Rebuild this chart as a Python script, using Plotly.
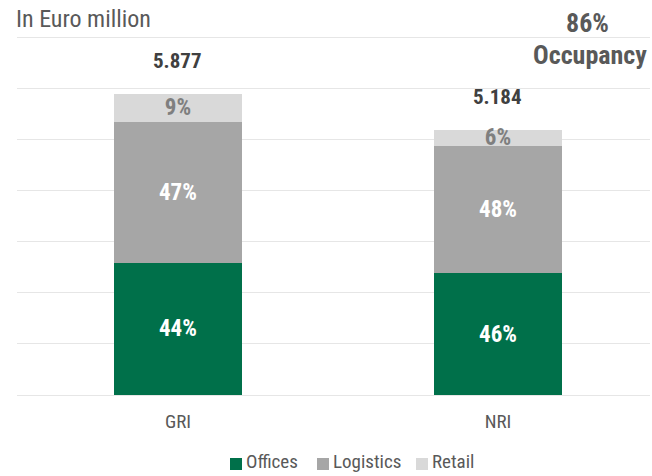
import plotly.graph_objects as go

categories = ["GRI", "NRI"]
totals = [5.877, 5.184]
segments = ["Offices", "Logistics", "Retail"]
shares = {
    "Offices": [0.44, 0.46],
    "Logistics": [0.47, 0.48],
    "Retail": [0.09, 0.06],
}
colors = {"Offices": "#00704A", "Logistics": "#A6A6A6", "Retail": "#D9D9D9"}
label_colors = {"Offices": "white", "Logistics": "white", "Retail": "#7F7F7F"}
occupancy = "86%"

FONT = "Liberation Sans Narrow, Roboto Condensed, Arial Narrow, Liberation Sans, sans-serif"
W, H = 652, 476
ML, MR, MT, MB = 17, 2, 36, 81


def px_x(px):
    return (px - ML) / (W - ML - MR)


def px_y(py):
    return (H - MB - py) / (H - MT - MB)


fig = go.Figure()
for seg in segments:
    vals = [t * s for t, s in zip(totals, shares[seg])]
    fig.add_trace(go.Bar(
        name=seg,
        x=categories,
        y=vals,
        width=0.4,
        marker_color=colors[seg],
        marker_line_width=0,
        text=[f"{round(s * 100)}%" for s in shares[seg]],
        textposition="inside",
        insidetextanchor="middle",
        textangle=0,
        constraintext="none",
        textfont=dict(family=FONT, size=23, color=label_colors[seg], weight="bold"),
        hoverinfo="skip",
    ))

for cat, tot in zip(categories, totals):
    fig.add_annotation(
        x=cat, y=tot, text=f"<b>{tot:.3f}</b>", showarrow=False,
        yanchor="bottom", yshift=19,
        font=dict(family=FONT, size=21, color="#404040"),
    )

fig.add_annotation(xref="paper", yref="paper", x=px_x(14), y=px_y(19), xanchor="left", yanchor="middle",
                   text="In Euro million", showarrow=False,
                   font=dict(family=FONT, size=24, color="#595959"))
fig.add_annotation(xref="paper", yref="paper", x=px_x(587), y=px_y(23), xanchor="center", yanchor="middle",
                   text=f"<b>{occupancy}</b>", showarrow=False,
                   font=dict(family=FONT, size=26, color="#595959"))
fig.add_annotation(xref="paper", yref="paper", x=px_x(649), y=px_y(55), xanchor="right", yanchor="middle",
                   text="<b>Occupancy</b>", showarrow=False,
                   font=dict(family=FONT, size=26, color="#595959"))

# legend drawn by hand so it can sit close to the bottom edge like the original
legend_square_left = {"Offices": 230, "Logistics": 317, "Retail": 416}
for seg in segments:
    left = legend_square_left[seg]
    fig.add_shape(type="rect", xref="paper", yref="paper",
                  x0=px_x(left), x1=px_x(left + 12), y0=px_y(470), y1=px_y(458),
                  fillcolor=colors[seg], line_width=0)
    fig.add_annotation(xref="paper", yref="paper", x=px_x(left + 14), y=px_y(475),
                       xanchor="left", yanchor="bottom", text=seg, showarrow=False,
                       font=dict(family=FONT, size=19, color="#595959"))

fig.update_layout(
    width=W, height=H,
    margin=dict(l=ML, r=MR, t=MT, b=MB),
    barmode="stack",
    plot_bgcolor="white", paper_bgcolor="white",
    font=dict(family=FONT, size=19, color="#595959"),
    xaxis=dict(range=[-0.503, 1.475], showgrid=False, ticks="", showline=False,
               ticklabelstandoff=13),
    yaxis=dict(range=[0, 7.02], tickvals=[0, 1, 2, 3, 4, 5, 6, 7], showticklabels=False,
               gridcolor="#E6E6E6", zeroline=True, zerolinecolor="#E6E6E6", zerolinewidth=1),
    showlegend=False,
)

fig.write_html("out.html", config={"displayModeBar": False},
               post_script="document.body.style.margin='0px';")
